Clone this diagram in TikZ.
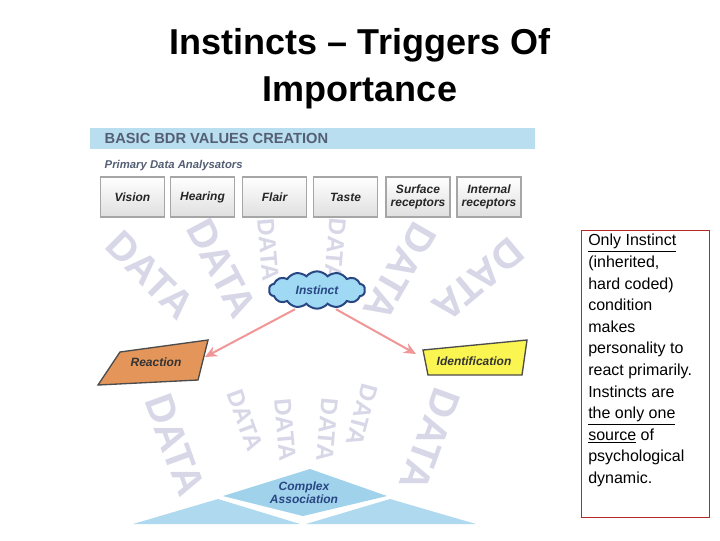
\documentclass[tikz,border=0pt]{standalone}
\usepackage{fontspec}
\setmainfont{Liberation Sans}
\usetikzlibrary{shapes.symbols,shapes.geometric,arrows.meta}
\definecolor{ghost}{RGB}{205,205,225}
\definecolor{hdr}{RGB}{185,222,240}
\definecolor{hdrtxt}{RGB}{85,95,115}
\definecolor{cloudf}{RGB}{120,200,240}
\definecolor{cloudd}{RGB}{40,70,130}
\definecolor{pinkar}{RGB}{240,150,150}
\definecolor{orng}{RGB}{228,150,90}
\definecolor{yel}{RGB}{250,245,80}
\definecolor{diam}{RGB}{160,210,235}
\definecolor{redb}{RGB}{180,40,40}
\tikzset{
 sensor/.style={draw=gray!70,line width=1pt,top color=white,bottom color=gray!25,minimum width=48pt,minimum height=30pt,inner sep=1pt,align=center,font=\bfseries\itshape\fontsize{9}{9.5}\selectfont,text=black!85},
 ghosttxt/.style={text=ghost,font=\bfseries\fontsize{30}{30}\selectfont,opacity=0.8},
 ghostsm/.style={text=ghost,font=\bfseries\fontsize{18}{18}\selectfont,opacity=0.8},
 lbl/.style={font=\bfseries\itshape\fontsize{9}{10}\selectfont,align=center},
 parr/.style={-{Stealth[length=9pt,width=8pt]},draw=pinkar,line width=1.5pt}
}
\begin{document}
\begin{tikzpicture}[x=0.75pt,y=-0.75pt]
\useasboundingbox (0,0) rectangle (720,540);
\fill[white] (0,0) rectangle (720,540);
% title
\node[font=\bfseries\fontsize{27}{30}\selectfont] (t1) at (360,45) {Instincts – Triggers Of};
\node[font=\bfseries\fontsize{27}{30}\selectfont] (t2) at (360,93) {Importance};
% ghost DATA
\node[ghosttxt,rotate=-45] (g1) at (150,275) {DATA};
\node[ghosttxt,rotate=-62] (g2) at (222,268) {DATA};
\node[ghostsm,rotate=-85] (g3) at (268,250) {DATA};
\node[ghostsm,rotate=-95] (g4) at (335,250) {DATA};
\node[ghosttxt,rotate=-120] (g5) at (400,272) {DATA};
\node[ghosttxt,rotate=-140] (g6) at (478,280) {DATA};
\node[ghosttxt,rotate=-70] (g7) at (175,445) {DATA};
\node[ghosttxt,rotate=-110] (g8) at (430,440) {DATA};
\node[ghostsm,rotate=-70] (g9) at (245,420) {DATA};
\node[ghostsm,rotate=-85] (g10) at (285,430) {DATA};
\node[ghostsm,rotate=-95] (g11) at (327,430) {DATA};
\node[ghostsm,rotate=-105] (g12) at (362,415) {DATA};
% header
\fill[hdr] (90,128) rectangle (535,149);
\node[anchor=west,text=hdrtxt,font=\bfseries\fontsize{11}{12}\selectfont] (hd) at (100,138.5) {BASIC BDR VALUES CREATION};
\node[anchor=west,text=hdrtxt,font=\bfseries\itshape\fontsize{8.5}{9}\selectfont] (pda) at (100,166) {Primary Data Analysators};
% sensors
\node[sensor] (vis) at (132.5,197) {Vision};
\node[sensor] (hea) at (202.5,197) {Hearing};
\node[sensor] (fla) at (274.5,197) {Flair};
\node[sensor] (tas) at (345.5,197) {Taste};
\node[sensor] (sur) at (418,197) {Surface\\receptors};
\node[sensor] (int) at (489,197) {Internal\\receptors};
% instinct cloud
\node[cloud,cloud puffs=14,cloud puff arc=100,aspect=2.6,draw=cloudd,line width=1.5pt,fill=cloudf!70,text=cloudd,lbl,minimum width=72pt,minimum height=28pt,inner sep=1pt] (ins) at (317,290) {Instinct};
% reaction
\coordinate (r1) at (120,352); \coordinate (r2) at (208,340);
\coordinate (r3) at (198,380); \coordinate (r4) at (98,385);
\filldraw[fill=orng,draw=gray!60!black,line width=1pt] (r1)--(r2)--(r3)--(r4)--cycle;
\node[lbl,text=black!80] (rea) at (156,362) {Reaction};
% identification
\coordinate (i1) at (423,350); \coordinate (i2) at (527,340);
\coordinate (i3) at (522,375); \coordinate (i4) at (428,375);
\filldraw[fill=yel,draw=gray!60!black,line width=1pt] (i1)--(i2)--(i3)--(i4)--cycle;
\node[lbl,text=black!80] (ide) at (474,361) {Identification};
% arrows
\draw[parr] (ins.south west) ++(12,6) coordinate (a1) -- (205,357) coordinate (ra);
\draw[parr] (ins.south east) ++(-15,6) coordinate (a2) -- (416,354) coordinate (ia);
% complex association
\coordinate (d1) at (310,469); \coordinate (d2) at (387,496);
\coordinate (d3) at (303,516); \coordinate (d4) at (223,496);
\fill[diam] (d1)--(d2)--(d3)--(d4)--cycle;
\coordinate (l1) at (133,524); \coordinate (l2) at (218,499); \coordinate (l3) at (300,524);
\fill[diam!85!white] (l1)--(l2)--(l3)--cycle;
\coordinate (m1) at (306,524); \coordinate (m2) at (390,499); \coordinate (m3) at (476,524);
\fill[diam!85!white] (m1)--(m2)--(m3)--cycle;
\node[lbl,text=cloudd] (ca) at (304,493) {Complex\\Association};
% right text box
\node[draw=redb,line width=0.6pt,minimum width=96pt,minimum height=215pt,anchor=north west] (box) at (581,230) {};
\node[anchor=north west,align=left,font=\fontsize{12}{16.2}\selectfont,inner sep=0pt] (txt) at (588,234) {\underline{Only Instinct}\\(inherited,\\hard coded)\\condition\\makes\\personality to\\react primarily.\\Instincts are\\\underline{the only one}\\\underline{source} of\\psychological\\dynamic.};
\end{tikzpicture}
\end{document}
